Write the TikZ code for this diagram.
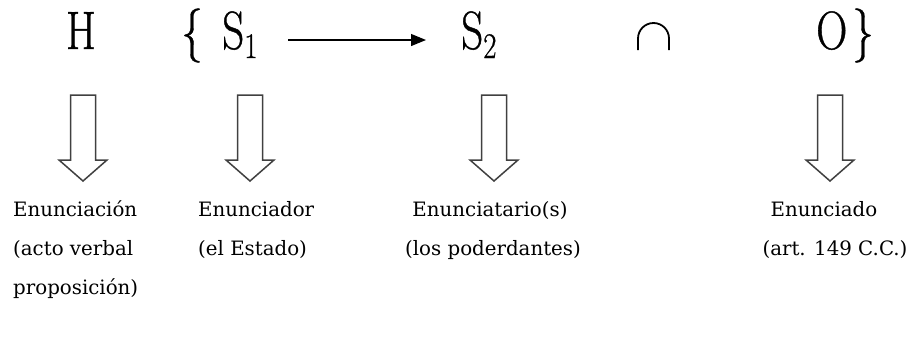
\documentclass[tikz,border=0pt]{standalone}
\usepackage{fontspec}
\usetikzlibrary{arrows.meta}
\newfontfamily\lowfont{DejaVu Serif}
\newfontfamily\topfont[FakeBold=0.8]{Latin Modern Roman}
\newcommand\topsym[1]{\scalebox{0.8}[1]{\topfont\fontsize{54}{54}\selectfont #1}}
\newcommand\subsym[1]{\raisebox{-9pt}{\topfont\fontsize{36}{36}\selectfont #1}}
\begin{document}
\begin{tikzpicture}[x=1pt,y=-1pt,
  sym/.style={inner sep=0pt,anchor=base west},
  lbl/.style={inner sep=0pt,anchor=base west,font=\lowfont\fontsize{19.8}{19.8}\selectfont},
  lblc/.style={inner sep=0pt,anchor=base,font=\lowfont\fontsize{19.8}{19.8}\selectfont},
  bigarrow/.pic={\draw[black!75,line width=1.5pt,line join=miter,fill=white]
     (-12.5,0) -- (-12.5,65) -- (-24,65) -- (0,86) -- (24,65) -- (12.5,65) -- (12.5,0) -- cycle;},
  thinarrow/.style={-{Stealth[length=15pt,width=12pt,inset=0pt]},line width=1.2pt}]
\useasboundingbox (0,0) rectangle (912,341);
% top row
\node[sym,anchor=base] (H) at (81,49) {\topsym{H}};
\node[sym] (lb) at (181,49) {\topsym{\{}};
\node[sym] (S1) at (222,49) {\topsym{S\subsym{1}}};
\node[sym] (S2) at (461,49) {\topsym{S\subsym{2}}};
\node[sym] (O) at (816,49) {\topsym{O}};
\node[sym] (rb) at (852,49) {\topsym{\}}};
\coordinate (a1) at (288,40);
\coordinate (a2) at (426,40);
\draw[thinarrow] (a1) -- (a2);
% cap symbol
\draw[line width=1.8pt] (638,50) -- (638,38.5) arc[start angle=180,end angle=360,radius=15.5] -- (669,50);
% block arrows
\pic at (83,95) {bigarrow};
\pic at (250,95) {bigarrow};
\pic at (494,95) {bigarrow};
\pic at (830,95) {bigarrow};
% labels
\node[lbl] (e1) at (13,216) {Enunciación};
\node[lbl] (e1b) at (13,255) {(acto verbal};
\node[lbl] (e1c) at (13,294) {proposición)};
\node[lbl] (e2) at (198,216) {Enunciador};
\node[lbl] (e2b) at (198,255) {(el Estado)};
\node[lblc] (e3) at (490,216) {Enunciatario(s)};
\node[lblc] (e3b) at (493,255) {(los poderdantes)};
\node[lblc] (e4) at (824,216) {Enunciado};
\node[lblc] (e4b) at (835,255) {(art. 149 C.C.)};
\end{tikzpicture}
\end{document}
